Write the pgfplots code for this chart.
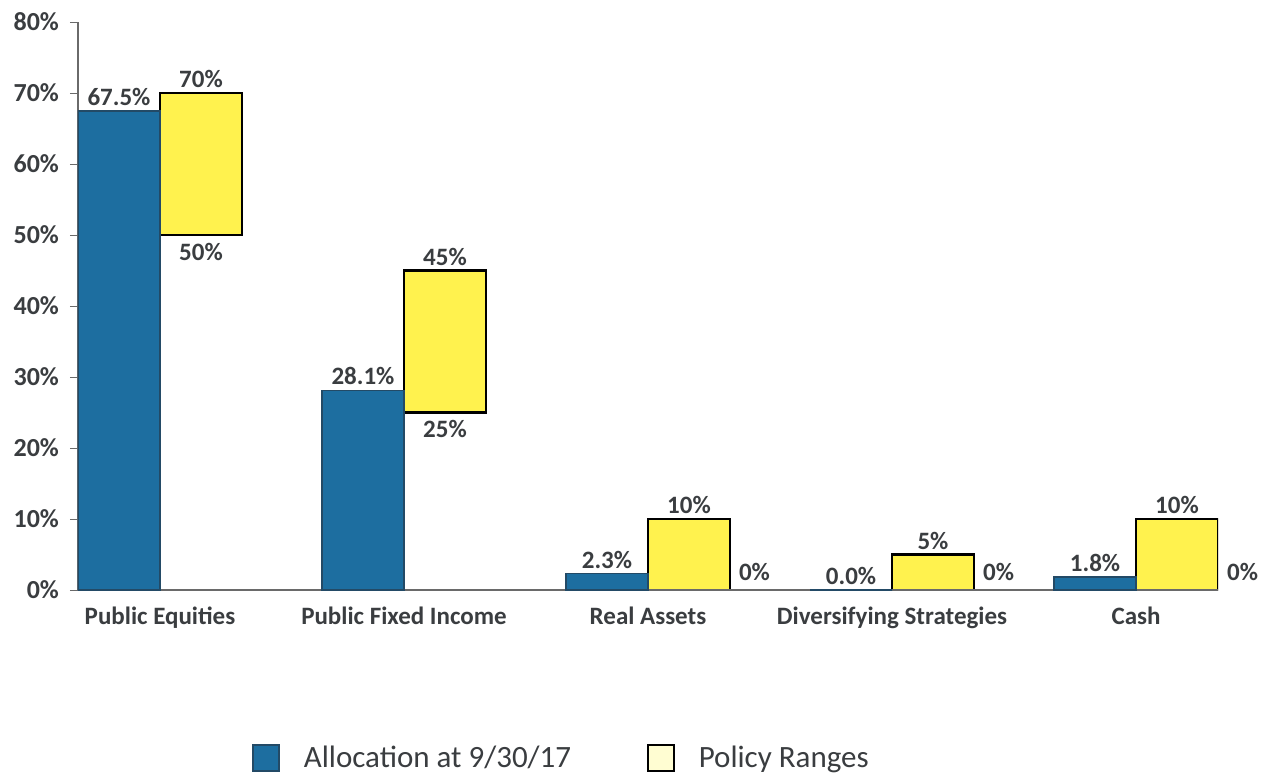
\documentclass[border=0pt]{standalone}
\usepackage{pgfplots}
\usepackage{pgfplotstable}
\usepackage{fontspec}
\setmainfont{Carlito}
\pgfplotsset{compat=1.18}
\definecolor{allocblue}{HTML}{1D6EA0}
\definecolor{allocedge}{HTML}{234A66}
\definecolor{rangeyellow}{HTML}{FFF24E}
\definecolor{legyellow}{HTML}{FFFDD2}
\definecolor{txt}{HTML}{3A3D40}
\definecolor{axisgray}{HTML}{6A6A6A}
\pgfplotstableread{
x alloc low high
0 67.5 50 70
1 28.1 25 45
2 2.3 0 10
3 0.0 0 5
4 1.8 0 10
}\datatable
\pgfplotsset{
  common/.style={
    scale only axis, width=570pt, height=284pt,
    xmin=-0.336, xmax=4.336, ymin=0, ymax=80,
    at={(0,0)}, anchor=south west,
  }
}
\begin{document}
\begin{tikzpicture}
\useasboundingbox (-39pt,-91.5pt) rectangle (591.5pt,295pt);
% floating policy ranges
\begin{axis}[common, hide axis, ybar stacked, bar width=0.336]
\addplot[draw=none, fill=none] table[x expr=\thisrow{x}+0.168, y=low] {\datatable};
\addplot[fill=rangeyellow, draw=black, line width=1.3pt] table[x expr=\thisrow{x}+0.168, y expr=\thisrow{high}-\thisrow{low}] {\datatable};
\end{axis}
% main axis
\begin{axis}[common,
  axis x line*=bottom, axis y line*=left,
  axis line style={axisgray, line width=0.6pt},
  ytick={0,10,...,80},
  tick align=outside, major tick length=4pt,
  ytick style={axisgray},
  xtick={0,1,2,3,4},
  major x tick style={draw=none},
  xticklabels={Public Equities, Public Fixed Income, Real Assets, Diversifying Strategies, Cash},
  /pgf/number format/assume math mode=true,
  yticklabel={\pgfmathprintnumber{\tick}\%},
  yticklabel style={font=\fontsize{13}{15}\selectfont\bfseries, text=txt, xshift=-2pt},
  xticklabel style={font=\fontsize{12.5}{15}\selectfont\bfseries, text=txt, yshift=-1pt},
  every node near coord/.append style={font=\fontsize{12.5}{15}\selectfont\bfseries, text=txt},
  legend style={at={(0.425,-0.296)}, anchor=center, draw=none, fill=none,
    legend columns=2, font=\fontsize{15.5}{18}\selectfont, text=txt,
    /tikz/every even column/.append style={column sep=36pt},
    /tikz/every odd column/.append style={column sep=10pt}},
  legend cell align=left,
  legend image code/.code={\draw[#1] (0pt,-6.5pt) rectangle (13pt,6.5pt);},
]
\addplot[ybar, bar width=0.336, bar shift=0pt, fill=allocblue, draw=allocedge, line width=0.8pt,
  nodes near coords={\pgfmathprintnumber[fixed,fixed zerofill,precision=1]{\pgfplotspointmeta}\%},
  nodes near coords style={anchor=south, yshift=-1pt}]
  table[x expr=\thisrow{x}-0.168, y=alloc] {\datatable};
\addlegendentry{Allocation at 9/30/17}
\addlegendimage{fill=legyellow, draw=black, line width=0.8pt}
\addlegendentry{Policy Ranges}
% top labels of ranges
\addplot[draw=none, mark=none, forget plot,
  nodes near coords={\pgfmathprintnumber[fixed,precision=0]{\pgfplotspointmeta}\%},
  nodes near coords style={anchor=south, yshift=-1pt}]
  table[x expr=\thisrow{x}+0.168, y=high] {\datatable};
% bottom labels of ranges
\addplot[draw=none, mark=none, forget plot,
  nodes near coords={\pgfmathprintnumber[fixed,precision=0]{\pgfplotspointmeta}\%},
  nodes near coords style={anchor=north, yshift=-0.5pt}]
  coordinates {(0.168,50) (1.168,25)};
% zero lows
\addplot[draw=none, mark=none, forget plot,
  nodes near coords={\pgfmathprintnumber[fixed,precision=0]{\pgfplotspointmeta}\%},
  nodes near coords style={anchor=south west, xshift=1pt, yshift=1pt}]
  coordinates {(2.336,0) (3.336,0) (4.336,0)};
\end{axis}
\end{tikzpicture}
\end{document}
